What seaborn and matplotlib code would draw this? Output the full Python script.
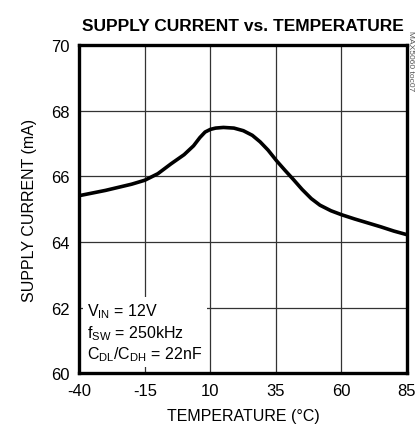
import matplotlib
matplotlib.use("Agg")
import matplotlib.pyplot as plt
import pandas as pd
import seaborn as sns

temperature = [-40, -30, -20, -15, -10, -5, 0, 3.6, 6, 8, 10, 12, 15, 19, 22.6, 26, 29, 32, 35.3, 38.5, 41.7, 45, 48.5, 51.8, 56, 60, 65, 70, 75, 80, 85]
supply_current = [65.41, 65.57, 65.76, 65.88, 66.08, 66.38, 66.66, 66.93, 67.18, 67.35, 67.43, 67.47, 67.49, 67.47, 67.39, 67.25, 67.05, 66.8, 66.47, 66.18, 65.9, 65.6, 65.32, 65.12, 64.95, 64.83, 64.7, 64.58, 64.46, 64.33, 64.22]
x_ticks = [-40, -15, 10, 35, 60, 85]
y_ticks = [60, 62, 64, 66, 68, 70]

df = pd.DataFrame({"temp": temperature, "current": supply_current})

sns.set_style("white")
plt.rcParams["font.family"] = ["Liberation Sans", "DejaVu Sans"]
plt.rcParams["axes.unicode_minus"] = False
plt.rcParams["text.color"] = "black"
plt.rcParams["axes.labelcolor"] = "black"
plt.rcParams["xtick.color"] = "black"
plt.rcParams["ytick.color"] = "black"

fig, ax = plt.subplots(figsize=(4.17, 4.35), dpi=100)
fig.subplots_adjust(left=0.19, right=0.976, top=0.894, bottom=0.14)

sns.lineplot(data=df, x="temp", y="current", ax=ax, color="black", linewidth=2.6)

ax.set_xlim(-40, 85)
ax.set_ylim(60, 70)
ax.set_xticks(x_ticks)
ax.set_yticks(y_ticks)
ax.grid(True, color="#333333", linewidth=0.9)
ax.tick_params(labelsize=12, length=0, pad=7)
for s in ax.spines.values():
    s.set_linewidth(2.4)
    s.set_color("black")
    s.set_visible(True)

ax.set_xlabel("TEMPERATURE (°C)", fontsize=11.5, labelpad=7)
ax.set_ylabel("SUPPLY CURRENT (mA)", fontsize=11.5, labelpad=10)
ax.set_title("SUPPLY CURRENT vs. TEMPERATURE", fontsize=12.5, fontweight="bold", pad=11)

ax.text(-37, 60.3, "$\\mathregular{V_{IN}}$ = 12V\n$\\mathregular{f_{SW}}$ = 250kHz\n$\\mathregular{C_{DL}/C_{DH}}$ = 22nF",
        fontsize=11.5, va="bottom", ha="left", linespacing=1.2,
        bbox=dict(facecolor="white", edgecolor="none", pad=3))

fig.text(0.985, 0.86, "MAX5060 toc07", rotation=270, fontsize=6, color="#555555", ha="center", va="center")

plt.savefig("out.png", format="png", dpi=100)
